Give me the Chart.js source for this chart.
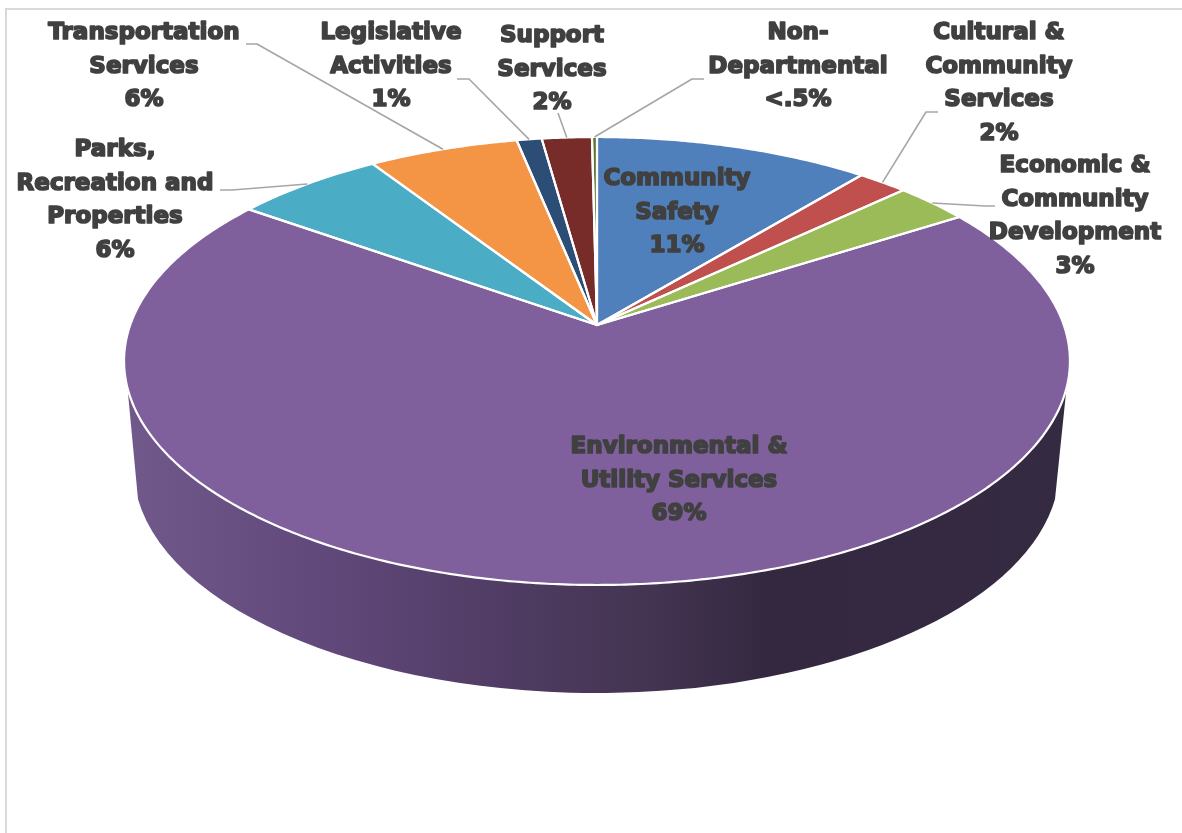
<!DOCTYPE html>
<html>
<head>
<meta charset="utf-8">
<title>Budget by department</title>
<script src="https://cdn.jsdelivr.net/npm/chart.js@4"></script>
<style>
    html, body { margin: 0; padding: 0; background: #fff; }
    canvas { display: block; }
</style>
</head>
<body>
<canvas id="myChart" width="1182" height="833"></canvas>
<script>
const categories = [
    ["Community", "Safety"],
    ["Cultural &", "Community", "Services"],
    ["Economic &", "Community", "Development"],
    ["Environmental &", "Utility Services"],
    ["Parks,", "Recreation and", "Properties"],
    ["Transportation", "Services"],
    ["Legislative", "Activities"],
    ["Support", "Services"],
    ["Non-", "Departmental"]
]
const shares = [11, 2, 3, 69, 6, 6, 1, 2, 0.2]
const shareLabels = ["11%", "2%", "3%", "69%", "6%", "6%", "1%", "2%", "<.5%"]
const sliceColors = ["#4f80bc", "#c0504d", "#9bbb59", "#7f609c", "#4bacc6", "#f49545", "#2c4d75", "#772c2a", "#5f7530"]

// centre x and first line y of each label block
const labelSpots = [[677, 179], [999, 33], [1075, 166], [679, 447], [115, 150], [144, 33], [391, 33], [552, 36], [798, 33]]
// where each leader line leaves its label, then its elbow; null = label sits on the slice
const leaders = [
    null,
    [[938, 112], [926, 112]],
    [[995, 206], [985, 206]],
    null,
    [[220, 190], [232, 190]],
    [[246, 44], [257, 44]],
    [[457, 79], [469, 79]],
    [[558, 113], [558, 113]],
    [[704, 79], [692, 79]]
]

// the disc is tipped back, so its far half looks smaller than the near half
const tilt = { x: 597, y: 325, bx: 466.8, ay: 218.2, k: 0.1607 }
const base = { x: 596.5, y: 468, rx: 463, ry: 225 }
const wallFrom = 16 * Math.PI / 180
const wallTo = 164 * Math.PI / 180
const baseInset = 8 * Math.PI / 180

function project(angle){
    const u = Math.cos(angle)
    const v = Math.sin(angle)
    const d = 1 - tilt.k * v
    return { x: tilt.x + tilt.bx * u / d, y: tilt.y + tilt.ay * v / d }
}

function traceRim(ctx, from, to){
    const steps = Math.max(2, Math.ceil(Math.abs(to - from) / 0.01))
    for (let i = 0; i <= steps; i++) {
        const p = project(from + (to - from) * i / steps)
        ctx.lineTo(p.x, p.y)
    }
}

function drawWall(ctx){
    const grad = ctx.createLinearGradient(124, 0, 1070, 0)
    grad.addColorStop(0, "#72598c")
    grad.addColorStop(0.2, "#62497c")
    grad.addColorStop(0.4, "#503c64")
    grad.addColorStop(0.55, "#443552")
    grad.addColorStop(0.68, "#342840")
    grad.addColorStop(1, "#342a42")
    ctx.beginPath()
    const start = project(wallFrom)
    ctx.moveTo(start.x, start.y)
    traceRim(ctx, wallFrom, wallTo)
    ctx.ellipse(base.x, base.y, base.rx, base.ry, 0, Math.PI - baseInset, baseInset, true)
    ctx.closePath()
    ctx.fillStyle = grad
    ctx.fill()
}

function drawSlices(ctx, arcs){
    arcs.forEach((arc, i) => {
        ctx.beginPath()
        ctx.moveTo(tilt.x, tilt.y)
        traceRim(ctx, arc.startAngle, arc.endAngle)
        ctx.closePath()
        ctx.fillStyle = sliceColors[i]
        ctx.fill()
    })
    arcs.forEach(arc => {
        ctx.beginPath()
        ctx.moveTo(tilt.x, tilt.y)
        traceRim(ctx, arc.startAngle, arc.endAngle)
        ctx.closePath()
        ctx.strokeStyle = "#ffffff"
        ctx.lineWidth = 2.2
        ctx.lineJoin = "round"
        ctx.stroke()
    })
}

function drawLeaders(ctx, arcs){
    ctx.strokeStyle = "#a6a6a6"
    ctx.lineWidth = 1.6
    arcs.forEach((arc, i) => {
        if(!leaders[i]){
            return
        }
        const end = project((arc.startAngle + arc.endAngle) / 2)
        ctx.beginPath()
        ctx.moveTo(leaders[i][0][0], leaders[i][0][1])
        ctx.lineTo(leaders[i][1][0], leaders[i][1][1])
        ctx.lineTo(end.x, end.y)
        ctx.stroke()
    })
}

function drawLabels(ctx){
    ctx.font = 'bold 23px "DejaVu Sans"'
    ctx.textAlign = "center"
    ctx.textBaseline = "middle"
    ctx.fillStyle = "#404040"
    ctx.strokeStyle = "#404040"
    ctx.lineWidth = 1.7
    ctx.lineJoin = "round"
    for (let index = 0; index < categories.length; index++) {
        const lines = categories[index].concat(shareLabels[index])
        const [x, y] = labelSpots[index]
        lines.forEach((line, n) => {
            ctx.strokeText(line, x, y + n * 33.6)
            ctx.fillText(line, x, y + n * 33.6)
        })
    }
}

const tiltedDisc = {
    id: "tiltedDisc",
    beforeDatasetDraw(chart){
        const ctx = chart.ctx
        const arcs = chart.getDatasetMeta(0).data
        ctx.save()
        ctx.fillStyle = "#d9d9d9"
        ctx.fillRect(5, 8, 2, 825)
        ctx.fillRect(5, 8, 1177, 2)
        drawWall(ctx)
        drawSlices(ctx, arcs)
        drawLeaders(ctx, arcs)
        drawLabels(ctx)
        ctx.restore()
        return false
    }
}

new Chart(document.getElementById("myChart"), {
    type: "pie",
    data: {
        labels: categories.map(c => c.join(" ")),
        datasets: [{
            data: shares,
            backgroundColor: sliceColors
        }]
    },
    options: {
        responsive: false,
        animation: false,
        rotation: 0,
        plugins: {
            legend: { display: false },
            tooltip: { enabled: false }
        }
    },
    plugins: [tiltedDisc]
})
</script>
</body>
</html>
